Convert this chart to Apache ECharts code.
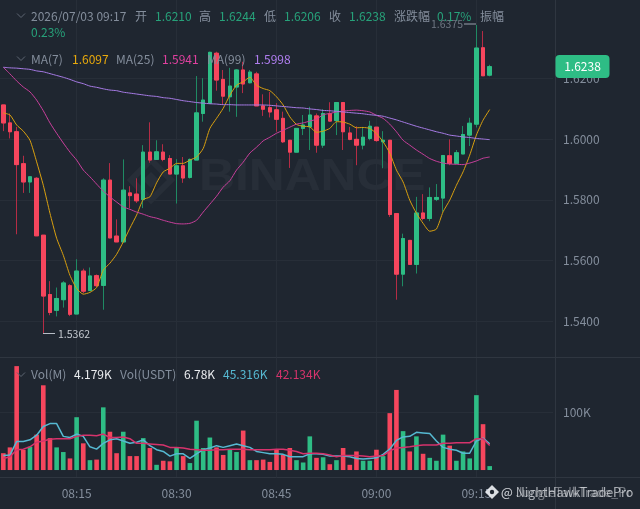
<!DOCTYPE html>
<html><head><meta charset="utf-8">
<style>html,body{margin:0;padding:0;background:#1f2630}#c{width:640px;height:509px}</style>
<script src="https://cdn.jsdelivr.net/npm/echarts@6/dist/echarts.min.js"></script></head>
<body><div id="c"></div><script>
const categories=['08:04','08:05','08:06','08:07','08:08','08:09','08:10','08:11','08:12','08:13','08:14','08:15','08:16','08:17','08:18','08:19','08:20','08:21','08:22','08:23','08:24','08:25','08:26','08:27','08:28','08:29','08:30','08:31','08:32','08:33','08:34','08:35','08:36','08:37','08:38','08:39','08:40','08:41','08:42','08:43','08:44','08:45','08:46','08:47','08:48','08:49','08:50','08:51','08:52','08:53','08:54','08:55','08:56','08:57','08:58','08:59','09:00','09:01','09:02','09:03','09:04','09:05','09:06','09:07','09:08','09:09','09:10','09:11','09:12','09:13','09:14','09:15','09:16','09:17','09:18','09:19','09:20','09:21','09:22','09:23','09:24','09:25','09:26'];
// open, close, low, high
const candles=[
[1.6112,1.6053,1.6026,1.6112],[1.6053,1.6024,1.6002,1.6084],[1.6024,1.5916,1.5687,1.6040],[1.5919,1.5859,1.5823,1.5945],[1.5859,1.5876,1.5823,1.5878],
[1.5871,1.5682,1.5681,1.5875],[1.5684,1.5484,1.5362,1.5684],[1.5489,1.5430,1.5421,1.5533],[1.5437,1.5476,1.5417,1.5512],[1.5472,1.5527,1.5446,1.5533],
[1.5518,1.5424,1.5418,1.5523],[1.5425,1.5566,1.5425,1.5605],[1.5566,1.5500,1.5493,1.5574],[1.5502,1.5550,1.5502,1.5578],[1.5551,1.5518,1.5514,1.5555],
[1.5519,1.5865,1.5439,1.5871],[1.5865,1.5675,1.5675,1.5921],[1.5681,1.5662,1.5662,1.5736],[1.5662,1.5832,1.5662,1.5933],[1.5823,1.5814,1.5773,1.5845],
[1.5819,1.5797,1.5790,1.5871],[1.5801,1.5957,1.5773,1.5980],[1.5957,1.5931,1.5922,1.6055],[1.5933,1.5958,1.5933,1.5996],[1.5957,1.5933,1.5927,1.5983],
[1.5936,1.5885,1.5885,1.5947],[1.5885,1.5912,1.5788,1.5934],[1.5912,1.5872,1.5856,1.5941],[1.5874,1.5933,1.5870,1.5936],[1.5931,1.6086,1.5931,1.6207],
[1.6084,1.6128,1.6057,1.6200],[1.6117,1.6285,1.6117,1.6287],[1.6282,1.6194,1.6159,1.6287],[1.6196,1.6141,1.6112,1.6227],[1.6139,1.6174,1.6090,1.6234],
[1.6171,1.6227,1.6073,1.6230],[1.6227,1.6181,1.6151,1.6254],[1.6185,1.6220,1.6183,1.6227],[1.6214,1.6109,1.6109,1.6221],[1.6109,1.6098,1.6076,1.6147],
[1.6103,1.6089,1.6071,1.6155],[1.6096,1.6065,1.6024,1.6118],[1.6068,1.5991,1.5987,1.6090],[1.5996,1.5957,1.5905,1.5996],[1.5957,1.6035,1.5957,1.6036],
[1.6035,1.6046,1.6013,1.6079],[1.6040,1.6079,1.5964,1.6106],[1.6076,1.5980,1.5955,1.6084],[1.5980,1.6084,1.5971,1.6098],[1.6084,1.6059,1.6057,1.6121],
[1.6061,1.6120,1.6013,1.6121],[1.6120,1.6024,1.5964,1.6121],[1.6020,1.5999,1.5996,1.6040],[1.5999,1.5980,1.5914,1.6042],[1.5980,1.6006,1.5966,1.6040],
[1.6002,1.6042,1.5996,1.6060],[1.6039,1.5995,1.5991,1.6039],[1.5991,1.5996,1.5904,1.6026],[1.5996,1.5752,1.5744,1.5996],[1.5755,1.5556,1.5472,1.5755],
[1.5556,1.5673,1.5516,1.5689],[1.5667,1.5588,1.5588,1.5667],[1.5588,1.5757,1.5558,1.5810],[1.5757,1.5739,1.5733,1.5819],[1.5739,1.5808,1.5730,1.5841],
[1.5802,1.5808,1.5796,1.5852],[1.5806,1.5946,1.5761,1.5947],[1.5945,1.5920,1.5914,1.5999],[1.5920,1.5955,1.5920,1.5964],[1.5951,1.6015,1.5951,1.6043],
[1.6013,1.6052,1.5977,1.6070],[1.6049,1.6299,1.6038,1.6375],[1.6300,1.6208,1.6208,1.6355],[1.6210,1.6238,1.6206,1.6244]];
const ma7=[1.6086,1.6079,1.6046,1.6026,1.5996,1.5925,1.5848,1.5756,1.5674,1.5618,
1.5552,1.5509,1.5490,1.5496,1.5512,1.5569,1.5592,1.5621,1.5662,1.5707,
1.5750,1.5801,1.5810,1.5856,1.5892,1.5904,1.5920,1.5920,1.5931,1.5941,
1.5969,1.6035,1.6068,1.6101,1.6144,1.6177,1.6188,1.6203,1.6177,1.6166,
1.6159,1.6139,1.6112,1.6073,1.6048,1.6042,1.6040,1.6022,1.6026,1.6035,
1.6057,1.6056,1.6049,1.6037,1.6038,1.6035,1.6018,1.5991,1.5954,1.5898,
1.5859,1.5799,1.5756,1.5723,1.5697,1.5704,1.5761,1.5799,1.5848,1.5892,
1.5947,1.6013,1.6062,1.6097];
const ma25=[1.6236,1.6214,1.6191,1.6171,1.6155,1.6128,1.6093,1.6053,1.6019,1.5987,
1.5957,1.5931,1.5898,1.5876,1.5852,1.5829,1.5810,1.5793,1.5777,1.5769,
1.5760,1.5753,1.5745,1.5740,1.5733,1.5727,1.5722,1.5721,1.5723,1.5733,
1.5760,1.5786,1.5812,1.5842,1.5863,1.5898,1.5924,1.5954,1.5973,1.5994,
1.6006,1.6019,1.6029,1.6039,1.6049,1.6053,1.6059,1.6065,1.6080,1.6084,
1.6089,1.6092,1.6094,1.6095,1.6093,1.6089,1.6078,1.6068,1.6049,1.6024,
1.5996,1.5980,1.5964,1.5950,1.5936,1.5927,1.5921,1.5918,1.5917,1.5916,
1.5921,1.5928,1.5937,1.5941];
const ma99=[1.6236,1.6234,1.6233,1.6231,1.6229,1.6224,1.6221,1.6215,1.6209,1.6203,
1.6196,1.6188,1.6182,1.6174,1.6170,1.6165,1.6161,1.6159,1.6154,1.6151,
1.6148,1.6145,1.6142,1.6140,1.6136,1.6134,1.6130,1.6126,1.6123,1.6120,
1.6118,1.6116,1.6115,1.6113,1.6113,1.6112,1.6112,1.6112,1.6112,1.6112,
1.6111,1.6109,1.6107,1.6105,1.6103,1.6102,1.6099,1.6097,1.6094,1.6093,
1.6091,1.6089,1.6087,1.6085,1.6083,1.6080,1.6078,1.6075,1.6069,1.6063,
1.6056,1.6049,1.6042,1.6036,1.6030,1.6024,1.6019,1.6013,1.6010,1.6007,
1.6005,1.6002,1.6000,1.5998];
const volumes=[29,39,179,35,40,61,146,55,39,31,
20,91,46,17,18,108,66,29,66,24,
24,55,38,9,16,15,39,24,12,85,
38,56,39,26,36,31,68,17,17,18,
14,36,26,38,17,13,58,21,22,10,
17,38,9,32,16,16,35,24,98,138,
67,32,58,28,21,16,61,42,16,32,
20,129,79,6.78];
const volMa7=[25,26,49,49,52,60,75,80,80,58,
56,62,58,40,36,46,52,54,50,46,
48,52,42,35,32,24,28,28,20,28,
35,38,42,39,42,45,42,39,32,30,
28,28,27,23,23,23,28,28,27,24,
24,24,23,20,19,20,21,27,36,51,
57,58,65,64,63,50,39,36,34,29,
29,50,55,45.316];
const volMa25=[20,23,35,36,40,48,50,53,54,54,
54,58,60,60,59,62,56,56,57,54,
46,46,45,44,43,39,39,38,36,35,
34,34,35,35,36,36,36,35,35,35,
35,36,36,34,32,28,29,29,28,26,
23,25,25,25,24,23,24,25,33,38,
39,40,42,43,43,43,46,46,47,47,
47,54,54,42.134];
const priceTicks=[1.54,1.56,1.58,1.60,1.62];
const volTicks=[100];
const header=[
 ['2026/07/03 09:17',31,16,'m'],['开',135,16,'m'],['1.6210',155,16,'g'],['高',199,16,'m'],['1.6244',219,16,'g'],['低',264,16,'m'],['1.6206',284,16,'g'],
 ['收',329,16,'m'],['1.6238',349,16,'g'],['涨跌幅',394,16,'m'],['0.17%',437,16,'g'],['振幅',480,16,'m'],['0.23%',31,32,'g'],
 ['MA(7)',31,59,'m'],['1.6097',72,59,'#e8a90c'],['MA(25)',116,59,'m'],['1.5941',162,59,'#e0409f'],['MA(99)',207,59,'m'],['1.5998',254,59,'#b07ef0'],
 ['Vol(M)',31,374,'m'],['4.179K',74,374,'#eaecef'],['Vol(USDT)',120,374,'m'],['6.78K',184,374,'#eaecef'],['45.316K',223,374,'#56b9d2'],['42.134K',276,374,'#d6336c']
];
const GREEN='#2ebd85',RED='#f6465d',GW='#1f8a63',RW='#b42c45',GRID='#272e38',AX='#2f3640',LBL='#848e9c';
const FONT='"Noto Sans CJK SC","Noto Sans",sans-serif';
const showTick=(i,v)=>+v.slice(3)%15===0;
const up=i=>candles[i][1]>=candles[i][0];
const bodies=candles.map(c=>[c[0],c[1],Math.min(c[0],c[1]),Math.max(c[0],c[1])]);
const txt=(t,x,y,fill,size,z,extra)=>({type:'text',x,y,z:z||50,silent:true,style:Object.assign({text:t,fill,font:(size||12)+'px '+FONT,textVerticalAlign:'middle'},extra||{})});
const chev=(y)=>({type:'polyline',z:50,silent:true,shape:{points:[[17,y],[21,y+4],[25,y]]},style:{stroke:'#5e6673',lineWidth:1,fill:null}});
const wm='rgba(255,255,255,0.04)';
const graphics=[
 {type:'text',x:199,y:178,scaleX:1.105,z:0,silent:true,style:{text:'BINANCE',fill:wm,font:'bold 45px "Liberation Sans",sans-serif',textVerticalAlign:'middle'}},
 {type:'polygon',z:0,silent:true,shape:{points:[[151,172],[159,180],[151,188],[143,180]]},style:{fill:wm}},
 {type:'polygon',z:0,silent:true,shape:{points:[[151,160],[171,180],[151,200],[131,180]]},style:{fill:null,stroke:wm,lineWidth:6}},
 {type:'line',z:40,silent:true,shape:{x1:555.5,y1:0,x2:555.5,y2:509},style:{stroke:AX,lineWidth:1}},
 {type:'line',z:40,silent:true,shape:{x1:553,y1:357.5,x2:640,y2:357.5},style:{stroke:AX,lineWidth:1}},
 {type:'line',z:40,silent:true,shape:{x1:553,y1:477.5,x2:640,y2:477.5},style:{stroke:AX,lineWidth:1}},
 chev(13.5),chev(56.5),chev(372.5),
 ...header.map(h=>txt(h[0],h[1],h[2],h[3]==='m'?LBL:h[3]==='g'?'#27a27a':h[3])),
 txt('1.6375',431,24,'#6f7783',10.5),
 {type:'line',z:50,silent:true,shape:{x1:464,y1:24,x2:476,y2:24},style:{stroke:'#9aa1ac',lineWidth:1}},
 {type:'line',z:50,silent:true,shape:{x1:43,y1:333.5,x2:55,y2:333.5},style:{stroke:'#b7bdc6',lineWidth:1}},
 txt('1.5362',58,334,'#c4c9d0',10.5),
 {type:'rect',z:60,silent:true,shape:{x:555.5,y:55,width:54,height:23,r:4},style:{fill:GREEN}},
 txt('1.6238',582.5,66.5,'#ffffff',12,61,{textAlign:'center'}),
 {type:'polygon',z:60,silent:true,shape:{points:[[492,485],[499,492],[492,499],[485,492]]},style:{fill:'rgba(235,238,242,0.92)'}},
 {type:'circle',z:61,silent:true,shape:{cx:492,cy:492,r:2.2},style:{fill:'#1f2630'}},
 txt('@ NightHawkTradePro',501,492,'rgba(228,231,235,0.7)',12.5,61),
 txt('@ JungleTalkTrade_Pr',501,492,'rgba(228,231,235,0.45)',12.5,61)
];
const xBase=(gridIndex,showLabels)=>({type:'category',gridIndex,data:categories,boundaryGap:true,
 axisLine:{show:true,onZero:false,lineStyle:{color:AX}},
 axisTick:{show:false,alignWithLabel:true,interval:showTick},
 axisLabel:{show:showLabels,interval:showTick,color:LBL,fontSize:12,margin:10,fontFamily:FONT,hideOverlap:false,formatter:v=>v},
 splitLine:{show:true,alignWithLabel:true,interval:showTick,lineStyle:{color:GRID,width:1}}});
const option={
 animation:false,backgroundColor:'#1f2630',
 grid:[{left:-0.4,top:0,width:553.4,height:357.5},{left:-0.4,top:358,width:553.4,height:119}],
 xAxis:[xBase(0,false),xBase(1,true)],
 yAxis:[
  {type:'value',gridIndex:0,position:'right',min:1.5282,max:1.6457,scale:true,
   axisLine:{show:false},axisTick:{show:false,customValues:priceTicks},
   axisLabel:{customValues:priceTicks,color:LBL,fontSize:12,margin:10,fontFamily:FONT,formatter:v=>v.toFixed(4)},
   splitLine:{show:true,lineStyle:{color:GRID,width:1}}},
  {type:'value',gridIndex:1,position:'right',min:-12,max:193,
   axisLine:{show:false},axisTick:{show:false,customValues:volTicks},
   axisLabel:{customValues:volTicks,color:LBL,fontSize:12,margin:10,fontFamily:FONT,formatter:v=>v+'K'},
   splitLine:{show:true,lineStyle:{color:GRID,width:1}}}
 ],
 graphic:{elements:graphics},
 series:[
  {type:'candlestick',name:'K',xAxisIndex:0,yAxisIndex:0,barWidth:4,data:candles,z:3,
   itemStyle:{color:GW,color0:RW,borderColor:GW,borderColor0:RW,borderWidth:1}},
  {type:'candlestick',name:'Body',xAxisIndex:0,yAxisIndex:0,barWidth:4,data:bodies,z:3,
   itemStyle:{color:GREEN,color0:RED,borderColor:GREEN,borderColor0:RED,borderWidth:1}},
  {type:'line',name:'MA(7)',xAxisIndex:0,yAxisIndex:0,data:ma7,showSymbol:false,smooth:0.2,z:4,lineStyle:{color:'#d9a00f',width:1}},
  {type:'line',name:'MA(25)',xAxisIndex:0,yAxisIndex:0,data:ma25,showSymbol:false,smooth:0.2,z:4,lineStyle:{color:'#c93f9c',width:1}},
  {type:'line',name:'MA(99)',xAxisIndex:0,yAxisIndex:0,data:ma99,showSymbol:false,smooth:0.2,z:4,lineStyle:{color:'#a77be6',width:1}},
  {type:'bar',name:'Vol',xAxisIndex:1,yAxisIndex:1,barWidth:4.6,z:3,
   data:volumes.map((v,i)=>({value:v,itemStyle:{color:up(i)?GREEN:RED}}))},
  {type:'line',name:'VolMA7',xAxisIndex:1,yAxisIndex:1,data:volMa7,showSymbol:false,z:4,lineStyle:{color:'#56b9d2',width:1.5}},
  {type:'line',name:'VolMA25',xAxisIndex:1,yAxisIndex:1,data:volMa25,showSymbol:false,z:4,lineStyle:{color:'#d6336c',width:1.5}}
 ]
};
const chart=echarts.init(document.getElementById('c'),null,{renderer:'canvas',width:640,height:509});
chart.setOption(option);
</script></body></html>
